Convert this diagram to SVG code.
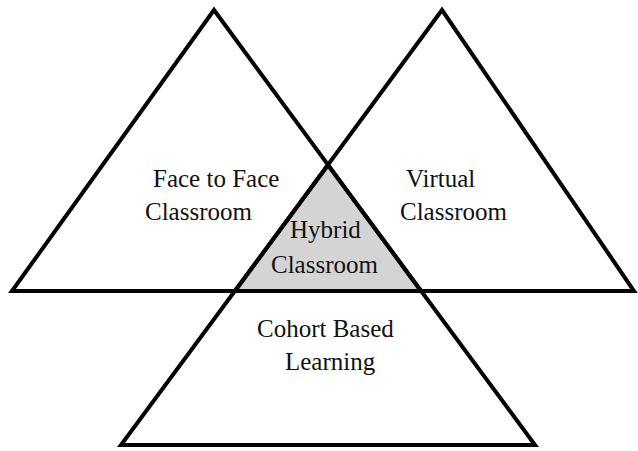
<svg xmlns="http://www.w3.org/2000/svg" width="638" height="451" viewBox="0 0 638 451">
<style>
.tri{fill:none;stroke:#000;stroke-width:4;stroke-linejoin:miter}
.hyb{fill:#d4d4d4;stroke:none}
text{font-family:"Liberation Serif","Times New Roman",serif;font-size:25px;fill:#111}
</style>
<rect width="638" height="451" fill="#fff"/>
<g id="hybrid">
<polygon class="hyb" points="328,165 235,291 421,291"/>
<text x="290" y="238">Hybrid</text>
<text x="271" y="273">Classroom</text>
</g>
<g id="face-to-face">
<polygon class="tri" points="214,10 12,291 421,291"/>
<text x="153" y="187">Face to Face</text>
<text x="145" y="220">Classroom</text>
</g>
<g id="virtual">
<polygon class="tri" points="442,10 235,291 634,291"/>
<text x="406" y="187">Virtual</text>
<text x="400" y="220">Classroom</text>
</g>
<g id="cohort">
<polygon class="tri" points="328,165 121,445 535,445"/>
<text x="257" y="337">Cohort Based</text>
<text x="285" y="370">Learning</text>
</g>
<g id="connectors"/>
</svg>
